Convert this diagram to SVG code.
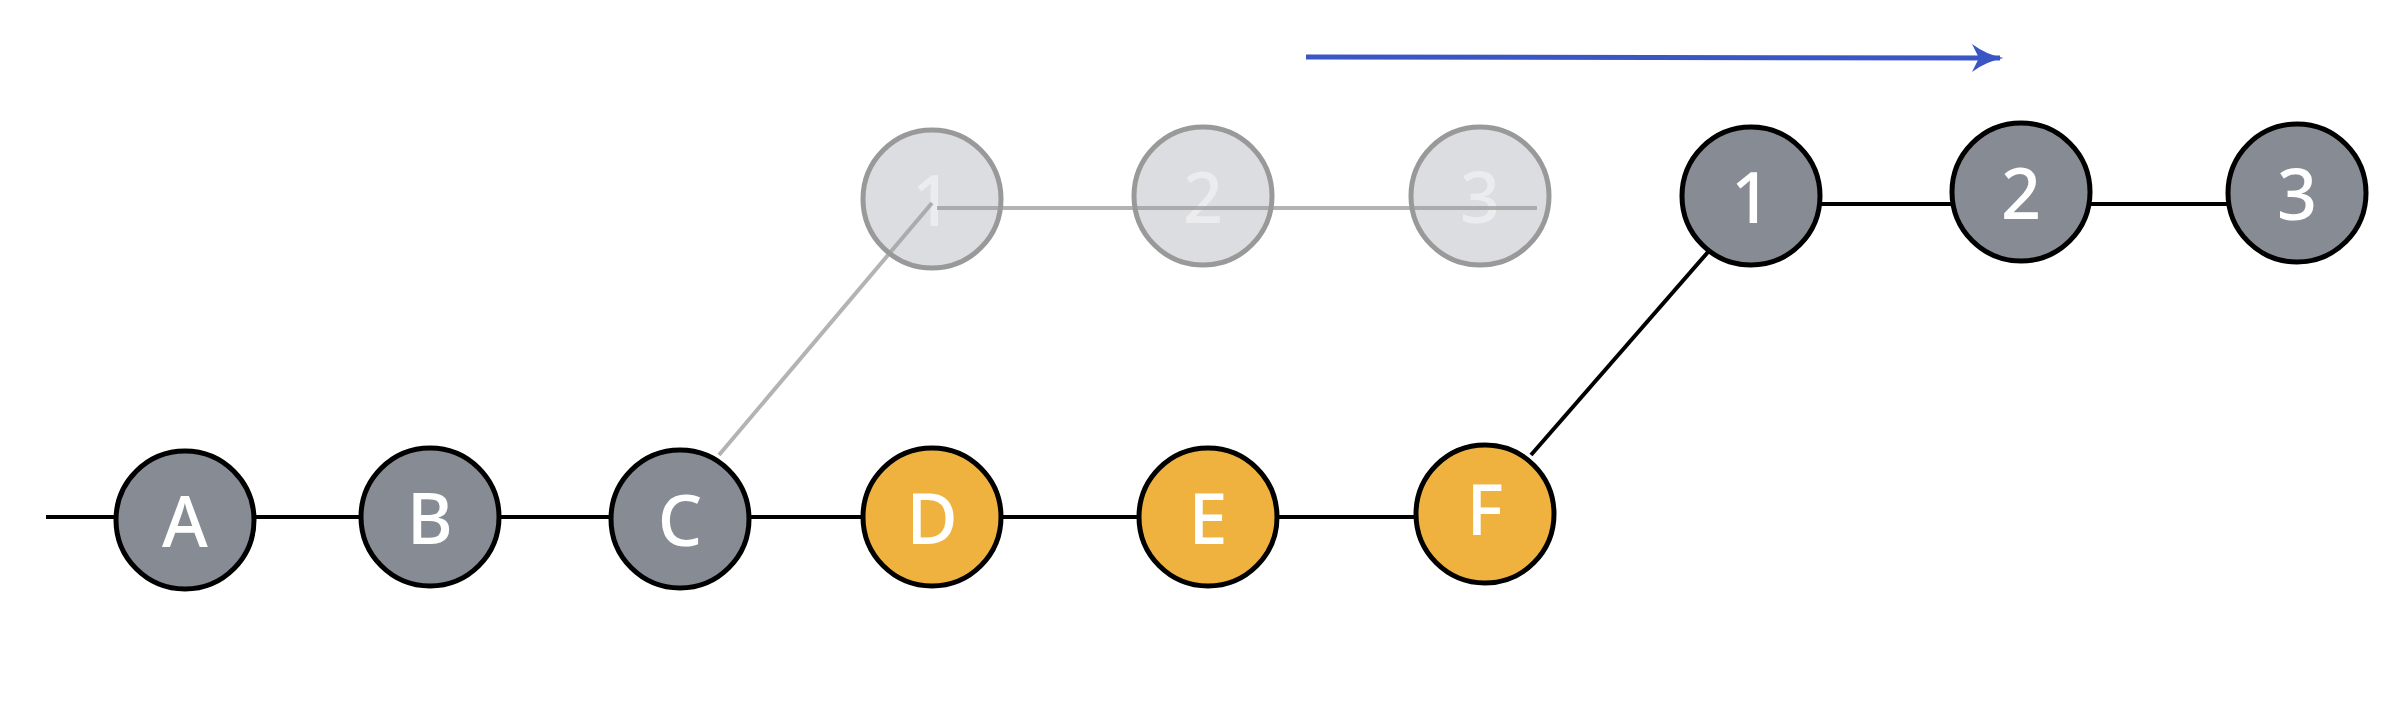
<svg xmlns="http://www.w3.org/2000/svg" width="2400" height="724" viewBox="0 0 2400 724">
<defs>
<style>
.n circle{stroke:#000;stroke-width:5}
.g{fill:#878c94}
.o{fill:#efb23e}
.gh circle{fill:#dcdde0;stroke:#999;stroke-width:5}
text{font-family:"Noto Sans","Open Sans",sans-serif;font-size:70px;font-weight:500;fill:#fff;text-anchor:middle;dominant-baseline:central}
.gh text{fill:#ececee}
.ln{stroke:#000;stroke-width:4;fill:none}
.gl{stroke:#9a9a9a;stroke-opacity:0.75;stroke-width:4;fill:none}
</style>
<marker id="ah" viewBox="0 0 20 20" refX="18" refY="10" markerWidth="7" markerHeight="7" orient="auto" markerUnits="strokeWidth">
<path d="M2,2 Q10,8 20,10 Q10,12 2,18 L6,10 Z" fill="#3a56c4"/>
</marker>
</defs>
<rect width="2400" height="724" fill="#fff"/>
<g id="ghost1" class="gh"><circle cx="932" cy="199" r="69"/><text x="932" y="199">1</text></g>
<g id="ghost2" class="gh"><circle cx="1203" cy="196" r="69"/><text x="1203" y="196">2</text></g>
<g id="ghost3" class="gh"><circle cx="1480" cy="196" r="69"/><text x="1480" y="196">3</text></g>
<g id="connectors">
<line class="ln" x1="46" y1="517" x2="1485" y2="517"/>
<line class="gl" x1="719" y1="455" x2="932" y2="203"/>
<line class="gl" x1="937" y1="208" x2="1537" y2="208"/>
<line class="ln" x1="1531" y1="455" x2="1708" y2="252"/>
<line class="ln" x1="1749" y1="204" x2="2296" y2="204"/>
<path d="M1306,57 L2000,58" stroke="#3a56c4" stroke-width="5" fill="none" marker-end="url(#ah)"/>
</g>
<g id="A" class="n"><circle class="g" cx="185" cy="520" r="69"/><text x="185" y="520">A</text></g>
<g id="B" class="n"><circle class="g" cx="430" cy="517" r="69"/><text x="430" y="517">B</text></g>
<g id="C" class="n"><circle class="g" cx="680" cy="519" r="69"/><text x="680" y="519">C</text></g>
<g id="D" class="n"><circle class="o" cx="932" cy="517" r="69"/><text x="932" y="517">D</text></g>
<g id="E" class="n"><circle class="o" cx="1208" cy="517" r="69"/><text x="1208" y="517">E</text></g>
<g id="F" class="n"><circle class="o" cx="1485" cy="514" r="69"/><text x="1485" y="508">F</text></g>
<g id="N1" class="n"><circle class="g" cx="1751" cy="196" r="69"/><text x="1751" y="196">1</text></g>
<g id="N2" class="n"><circle class="g" cx="2021" cy="192" r="69"/><text x="2021" y="192">2</text></g>
<g id="N3" class="n"><circle class="g" cx="2297" cy="193" r="69"/><text x="2297" y="193">3</text></g>
</svg>
